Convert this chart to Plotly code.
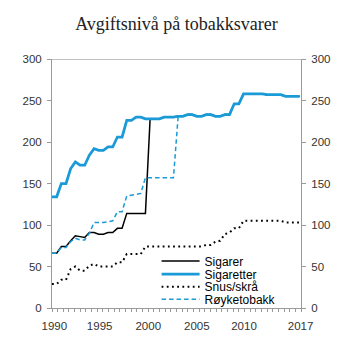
import plotly.graph_objects as go

# Half-year periods from 1990 (index 0 = 1990 H1) to 2016 H2
period = list(range(54))

sigarer = [66, 66, 74, 74, 81, 87, 86, 85, 91, 91,
           89, 89, 91, 91, 96, 96, 114, 114, 114, 114,
           114, 228, 228, 228, 230, 230, 230, 231, 231, 233,
           233, 231, 231, 233, 233, 231, 231, 233, 233, 246,
           246, 258, 258, 258, 258, 258, 257, 257, 257, 257,
           255, 255, 255, 255]

sigaretter = [134, 134, 150, 150, 168, 176, 172, 172, 184, 192,
              190, 190, 194, 194, 206, 206, 226, 226, 230, 230,
              228, 228, 228, 228, 230, 230, 230, 231, 231, 233,
              233, 231, 231, 233, 233, 231, 231, 233, 233, 246,
              246, 258, 258, 258, 258, 258, 257, 257, 257, 257,
              255, 255, 255, 255]

snus = [29, 29, 34, 34, 47, 50, 45, 45, 51, 53,
        50, 50, 50, 50, 55, 55, 65, 65, 65, 65,
        74, 74, 74, 74, 74, 74, 74, 74, 74, 74,
        74, 74, 74, 76, 76, 80, 81, 89, 91, 96,
        96, 105, 105, 105, 105, 105, 105, 105, 105, 105,
        103, 103, 103, 103]

royketobakk = [66, 66, 73, 73, 80, 84, 82, 82, 90, 103,
               103, 103, 104, 105, 116, 116, 135, 136, 137, 138,
               157, 157, 157, 157, 157, 157, 157, 231, 231, 233,
               233, 231, 231, 233, 233, 231, 231, 233, 233, 246,
               246, 258, 258, 258, 258, 258, 257, 257, 257, 257,
               255, 255, 255, 255]

x_tick_labels = ["1990", "1995", "2000", "2005", "2010", "2017"]
x_tick_pos = [0.5, 10.2, 20.6, 31.0, 41.1, 53.2]
y_ticks = [0, 50, 100, 150, 200, 250, 300]

BLUE = "#1A9AD6"
GRAY = "#9A9A9A"
FONT = "Liberation Sans, Arial, sans-serif"

fig = go.Figure()
fig.add_trace(go.Scatter(x=period, y=sigarer, name="Sigarer", mode="lines",
                         line=dict(color="#000000", width=1.5), legend="legend"))
fig.add_trace(go.Scatter(x=period, y=sigaretter, name="Sigaretter", mode="lines", yaxis="y2",
                         line=dict(color=BLUE, width=2.75), legend="legend2"))
fig.add_trace(go.Scatter(x=period, y=snus, name="Snus/skrå", mode="lines",
                         line=dict(color="#000000", width=2, dash="1.8px,3.4px"), legend="legend3"))
fig.add_trace(go.Scatter(x=period, y=royketobakk, name="Røyketobakk", mode="lines",
                         line=dict(color=BLUE, width=1.5, dash="4.5px,3px"), legend="legend4"))

tickfont = dict(family=FONT, size=11.5, color="#333333")
yax = dict(range=[0, 300], tickmode="array", tickvals=y_ticks, ticks="outside", ticklen=4,
           tickcolor=GRAY, showline=True, linecolor=GRAY, linewidth=1, showgrid=False,
           zeroline=False, tickfont=tickfont, fixedrange=True, ticklabelstandoff=3)

leg = dict(xanchor="left", yanchor="middle", bgcolor="rgba(0,0,0,0)",
           font=dict(family=FONT, size=12, color="#000000"), itemwidth=38)
lx = 0.42
fig.update_layout(
    width=353, height=353,
    showlegend=True,
    margin=dict(l=52, r=52, t=59, b=45),
    paper_bgcolor="white", plot_bgcolor="white",
    title=dict(text="Avgiftsnivå på tobakksvarer", x=0.5, xanchor="center", xref="container",
               y=0.934, yanchor="middle", yref="container",
               font=dict(family="Liberation Serif, Times New Roman, serif", size=18, color="#222222")),
    xaxis=dict(range=[0, 53.3], tickmode="array", tickvals=x_tick_pos, ticktext=x_tick_labels,
               ticks="", showline=True, linecolor=GRAY, linewidth=1, showgrid=False, zeroline=False,
               tickfont=tickfont, fixedrange=True, ticklabelstandoff=7,
               minor=dict(ticks="outside", ticklen=3, tick0=0, dtick=53.3 / 44, tickcolor=GRAY,
                          showgrid=False)),
    yaxis=yax,
    yaxis2=dict(yax, overlaying="y", side="right", anchor="x"),
    legend=dict(leg, x=lx, y=0.1888, visible=True),
    legend2=dict(leg, x=lx, y=0.1365),
    legend3=dict(leg, x=lx, y=0.0855),
    legend4=dict(leg, x=lx, y=0.0349),
    shapes=[dict(type="line", xref="paper", x0=0, x1=1, yref="y", y0=300, y1=300,
                 line=dict(color="#C0C0C0", width=2))],
)

fig.write_html("out.html")
